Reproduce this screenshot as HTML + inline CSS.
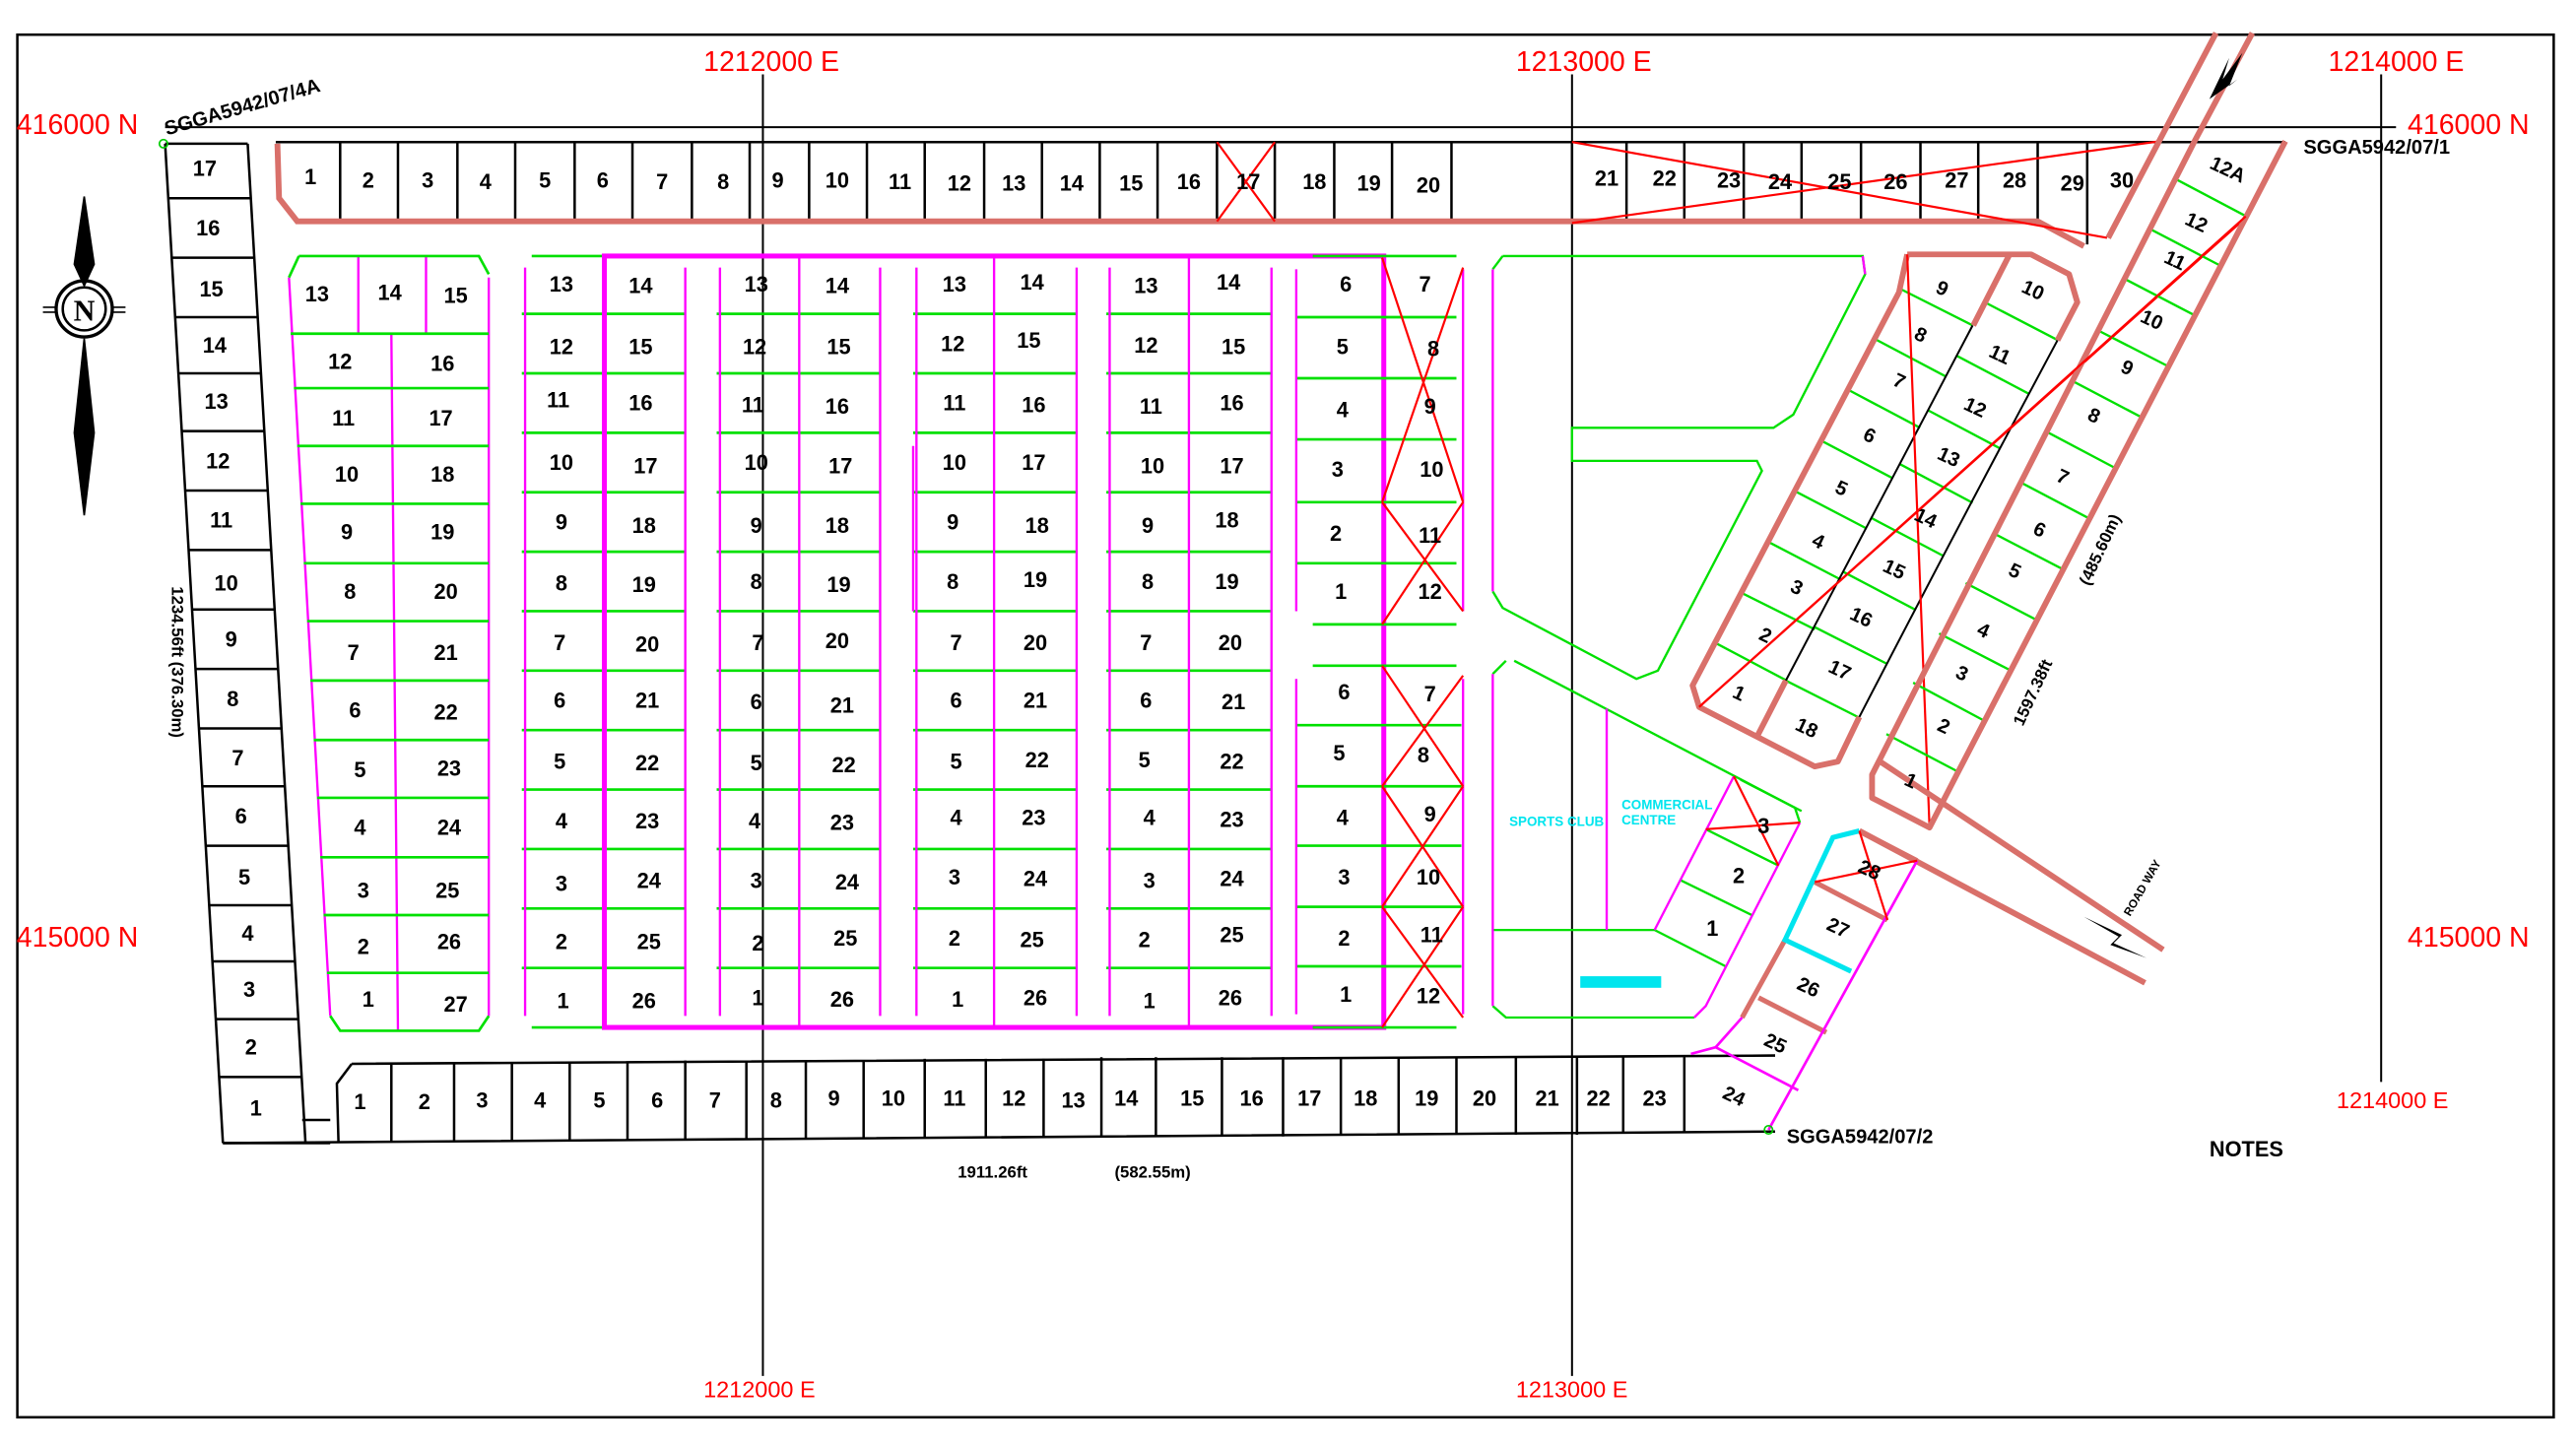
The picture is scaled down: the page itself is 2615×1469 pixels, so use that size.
<!DOCTYPE html>
<html><head><meta charset="utf-8"><style>
html,body{margin:0;padding:0;background:#fff;}
svg{display:block;}
text{font-family:"Liberation Sans",sans-serif;}
.n{font-size:13px;font-weight:bold;fill:#000;text-anchor:middle;dominant-baseline:central;}
.r{font-size:17px;fill:#f00;}
.c{font-size:8px;font-weight:bold;fill:#00e5ee;}
.lb{font-size:12px;font-weight:bold;fill:#000;}
</style></head><body>
<svg width="2615" height="1469" viewBox="0 0 1560 876" preserveAspectRatio="none" xmlns="http://www.w3.org/2000/svg">
<rect x="0" y="0" width="1560" height="876" fill="#fff"/>
<rect x="10.5" y="21" width="1536" height="837" fill="none" stroke="#000" stroke-width="1.5"/>

<!-- grid -->
<g stroke="#000" stroke-width="1.2" fill="none">
<path d="M462,45 V833 M952,45 V833 M1442,45 V655 M100,77 H1451"/>
</g>
<g class="r">
<text x="426" y="43">1212000  E</text>
<text x="918" y="43">1213000  E</text>
<text x="1410" y="43">1214000  E</text>
<text x="10" y="81">416000  N</text>
<text x="1458" y="81">416000  N</text>
<text x="10" y="573">415000  N</text>
<text x="1458" y="573">415000  N</text>
<text x="1415" y="671" style="font-size:14px">1214000  E</text>
<text x="426" y="846" style="font-size:14px">1212000  E</text>
<text x="918" y="846" style="font-size:14px">1213000  E</text>
</g>

<!-- north arrow -->
<g fill="#000" stroke="#000">
<polygon points="51,119 57,160 51,173 45,160" />
<polygon points="51,205 57,262 51,312 45,262" />
<circle cx="51" cy="187" r="17" fill="none" stroke-width="2"/>
<circle cx="51" cy="187" r="13" fill="none" stroke-width="1.5"/>
<path d="M26,186 H34 M68,186 H76 M26,189 H34 M68,189 H76" stroke-width="1"/>
</g>
<text x="51" y="188" class="n" style="font-size:18px;font-family:'Liberation Serif',serif">N</text>

<!-- left column -->
<g stroke="#000" stroke-width="1.5" fill="none">
<path d="M100,87 L135,692 M150,87 L185,692 M135,692 L200,692"/>
<path d="M101.9,120H151.9 M104,156H154 M106.1,192H156.1 M108.1,226H158.1 M110.1,261H160.1 M112.2,297H162.2 M114.3,333H164.3 M116.4,369H166.4 M118.4,405H168.4 M120.5,441H170.5 M122.6,476H172.6 M124.7,512H174.7 M126.8,548H176.8 M128.7,582H178.7 M130.7,617H180.7 M132.8,652H182.8 M100,87H150"/>
<path d="M183,678 H200"/>
</g>
<g class="n">
<text x="124" y="102">17</text><text x="126" y="138">16</text><text x="128" y="175">15</text><text x="130" y="209">14</text><text x="131" y="243">13</text><text x="132" y="279">12</text><text x="134" y="315">11</text><text x="137" y="353">10</text><text x="140" y="387">9</text><text x="141" y="423">8</text><text x="144" y="459">7</text><text x="146" y="494">6</text><text x="148" y="531">5</text><text x="150" y="565">4</text><text x="151" y="599">3</text><text x="152" y="634">2</text><text x="155" y="671">1</text>
</g>
<text class="lb" transform="translate(104,355) rotate(90)" style="font-size:10px">1234.56ft       (376.30m)</text>
<circle cx="99" cy="87" r="2.5" fill="none" stroke="#0c0"/>
<text class="lb" transform="translate(101,82) rotate(-16)" style="font-size:12px">SGGA5942/07/4A</text>

<!-- top row -->
<g stroke="#000" stroke-width="1.5" fill="none">
<path d="M167,86 H1384"/>
<path d="M206,86V134 M241,86V134 M277,86V134 M312,86V134 M348,86V134 M383,86V134 M419,86V134 M454,86V134 M490,86V134 M525,86V134 M560,86V134 M596,86V134 M631,86V134 M666,86V134 M701,86V134 M737,86V134 M772,86V134 M808,86V134 M843,86V134 M879,86V134 M952,86V134 M985,86V134 M1020,86V134 M1056,86V134 M1091,86V134 M1127,86V134 M1163,86V134 M1198,86V134 M1234,86V134 M1264,86V148"/>
</g>
<path d="M168,87 L169,120 L180,134 L1234,134 L1262,149" stroke="#d9706a" stroke-width="3.5" fill="none"/>
<g stroke="#f00" stroke-width="1.3">
<path d="M737,86 L772,134 M772,86 L737,134 M952,86 L1276,144 M952,135 L1308,85.5"/>
</g>
<g class="n">
<text x="188" y="107">1</text><text x="223" y="109">2</text><text x="259" y="109">3</text><text x="294" y="110">4</text><text x="330" y="109">5</text><text x="365" y="109">6</text><text x="401" y="110">7</text><text x="438" y="110">8</text><text x="471" y="109">9</text><text x="507" y="109">10</text><text x="545" y="110">11</text><text x="581" y="111">12</text><text x="614" y="111">13</text><text x="649" y="111">14</text><text x="685" y="111">15</text><text x="720" y="110">16</text><text x="756" y="110">17</text><text x="796" y="110">18</text><text x="829" y="111">19</text><text x="865" y="112">20</text>
<text x="973" y="108">21</text><text x="1008" y="108">22</text><text x="1047" y="109">23</text><text x="1078" y="110">24</text><text x="1114" y="110">25</text><text x="1148" y="110">26</text><text x="1185" y="109">27</text><text x="1220" y="109">28</text><text x="1255" y="111">29</text><text x="1285" y="109">30</text>
</g>

<!-- bottom row -->
<g stroke="#000" stroke-width="1.5" fill="none">
<path d="M135,692 L1075,685 M213,644 L1075,639 M213,644 L204,656 L205,692"/>
<path d="M237,644V691 M275,644V691 M310,643V691 M345,643V690 M380,643V690 M415,642V690 M452,642V690 M488,642V689 M523,642V689 M560,641V689 M597,641V688 M632,641V688 M667,640V688 M700,640V688 M740,640V688 M777,640V688 M812,640V687 M847,640V687 M882,640V687 M918,640V687 M955,640V687 M983,640V686 M1020,640V686"/>
</g>
<g class="n">
<text x="218" y="667">1</text><text x="257" y="667">2</text><text x="292" y="666">3</text><text x="327" y="666">4</text><text x="363" y="666">5</text><text x="398" y="666">6</text><text x="433" y="666">7</text><text x="470" y="666">8</text><text x="505" y="665">9</text><text x="541" y="665">10</text><text x="578" y="665">11</text><text x="614" y="665">12</text><text x="650" y="666">13</text><text x="682" y="665">14</text><text x="722" y="665">15</text><text x="758" y="665">16</text><text x="793" y="665">17</text><text x="827" y="665">18</text><text x="864" y="665">19</text><text x="899" y="665">20</text><text x="937" y="665">21</text><text x="968" y="665">22</text><text x="1002" y="665">23</text>
</g>
<text class="lb" x="580" y="713" style="font-size:10px">1911.26ft</text>
<text class="lb" x="675" y="713" style="font-size:10px">(582.55m)</text>
<text class="lb" x="1082" y="692">SGGA5942/07/2</text>
<text class="lb" x="1338" y="700" style="font-size:13px">NOTES</text>
<text class="lb" x="1395" y="93">SGGA5942/07/1</text>

<!-- Block A -->
<g stroke="#ff00ff" stroke-width="1.4" fill="none">
<path d="M175,168 L200,615 M296,168 V615 M237,202 L241,624 M217,155V202 M258,155V202"/>
</g>
<g stroke="#00e000" stroke-width="1.6" fill="none">
<path d="M181,155 H290 L296,166 M181,155 L175,168 M176,202H296 M178,235H296 M180,270H296 M182,305H296 M184,341H296 M186,376H296 M188,412H296 M190,448H296 M192,483H296 M194,519H296 M196,554H296 M198,589H296 M200,615 L206,624 H290 L296,615"/>
</g>
<g class="n">
<text x="192" y="178">13</text><text x="236" y="177">14</text><text x="276" y="179">15</text>
<text x="206" y="219">12</text><text x="208" y="253">11</text><text x="210" y="287">10</text><text x="210" y="322">9</text><text x="212" y="358">8</text><text x="214" y="395">7</text><text x="215" y="430">6</text><text x="218" y="466">5</text><text x="218" y="501">4</text><text x="220" y="539">3</text><text x="220" y="573">2</text><text x="223" y="605">1</text>
<text x="268" y="220">16</text><text x="267" y="253">17</text><text x="268" y="287">18</text><text x="268" y="322">19</text><text x="270" y="358">20</text><text x="270" y="395">21</text><text x="270" y="431">22</text><text x="272" y="465">23</text><text x="272" y="501">24</text><text x="271" y="539">25</text><text x="272" y="570">26</text><text x="276" y="608">27</text>
</g>

<!-- Blocks B-E -->
<g stroke="#00e000" stroke-width="1.6" fill="none">
<path d="M322,155H409 M316,190H415 M316,226H415 M316,262H415 M316,298H415 M316,334H415 M316,370H415 M316,406H415 M316,442H415 M316,478H415 M316,514H415 M316,550H415 M316,586H415 M322,622H409"/>
<path d="M440,155H527 M434,190H533 M434,226H533 M434,262H533 M434,298H533 M434,334H533 M434,370H533 M434,406H533 M434,442H533 M434,478H533 M434,514H533 M434,550H533 M434,586H533 M440,622H527"/>
<path d="M559,155H646 M553,190H652 M553,226H652 M553,262H652 M553,298H652 M553,334H652 M553,370H652 M553,406H652 M553,442H652 M553,478H652 M553,514H652 M553,550H652 M553,586H652 M559,622H646"/>
<path d="M676,155H764 M670,190H770 M670,226H770 M670,262H770 M670,298H770 M670,334H770 M670,370H770 M670,406H770 M670,442H770 M670,478H770 M670,514H770 M670,550H770 M670,586H770 M676,622H764"/>
</g>
<g stroke="#ff00ff" stroke-width="1.4" fill="none">
<path d="M318,162V615 M415,162V615 M436,162V615 M484,155V622 M533,162V615 M555,162V615 M602,155V622 M652,162V615 M672,162V615 M720,155V622 M770,162V615 M553,270V370"/>
</g>
<rect x="366" y="155" width="472" height="467" fill="none" stroke="#ff00ff" stroke-width="3"/>
<g class="n">
<text x="340" y="172">13</text><text x="340" y="210">12</text><text x="338" y="242">11</text><text x="340" y="280">10</text><text x="340" y="316">9</text><text x="340" y="353">8</text><text x="339" y="389">7</text><text x="339" y="424">6</text><text x="339" y="461">5</text><text x="340" y="497">4</text><text x="340" y="535">3</text><text x="340" y="570">2</text><text x="341" y="606">1</text>
<text x="388" y="173">14</text><text x="388" y="210">15</text><text x="388" y="244">16</text><text x="391" y="282">17</text><text x="390" y="318">18</text><text x="390" y="354">19</text><text x="392" y="390">20</text><text x="392" y="424">21</text><text x="392" y="462">22</text><text x="392" y="497">23</text><text x="393" y="533">24</text><text x="393" y="570">25</text><text x="390" y="606">26</text>
<text x="458" y="172">13</text><text x="457" y="210">12</text><text x="456" y="245">11</text><text x="458" y="280">10</text><text x="458" y="318">9</text><text x="458" y="352">8</text><text x="459" y="389">7</text><text x="458" y="425">6</text><text x="458" y="462">5</text><text x="457" y="497">4</text><text x="458" y="533">3</text><text x="459" y="571">2</text><text x="459" y="604">1</text>
<text x="507" y="173">14</text><text x="508" y="210">15</text><text x="507" y="246">16</text><text x="509" y="282">17</text><text x="507" y="318">18</text><text x="508" y="354">19</text><text x="507" y="388">20</text><text x="510" y="427">21</text><text x="511" y="463">22</text><text x="510" y="498">23</text><text x="513" y="534">24</text><text x="512" y="568">25</text><text x="510" y="605">26</text>
<text x="578" y="172">13</text><text x="577" y="208">12</text><text x="578" y="244">11</text><text x="578" y="280">10</text><text x="577" y="316">9</text><text x="577" y="352">8</text><text x="579" y="389">7</text><text x="579" y="424">6</text><text x="579" y="461">5</text><text x="579" y="495">4</text><text x="578" y="531">3</text><text x="578" y="568">2</text><text x="580" y="605">1</text>
<text x="625" y="171">14</text><text x="623" y="206">15</text><text x="626" y="245">16</text><text x="626" y="280">17</text><text x="628" y="318">18</text><text x="627" y="351">19</text><text x="627" y="389">20</text><text x="627" y="424">21</text><text x="628" y="460">22</text><text x="626" y="495">23</text><text x="627" y="532">24</text><text x="625" y="569">25</text><text x="627" y="604">26</text>
<text x="694" y="173">13</text><text x="694" y="209">12</text><text x="697" y="246">11</text><text x="698" y="282">10</text><text x="695" y="318">9</text><text x="695" y="352">8</text><text x="694" y="389">7</text><text x="694" y="424">6</text><text x="693" y="460">5</text><text x="696" y="495">4</text><text x="696" y="533">3</text><text x="693" y="569">2</text><text x="696" y="606">1</text>
<text x="744" y="171">14</text><text x="747" y="210">15</text><text x="746" y="244">16</text><text x="746" y="282">17</text><text x="743" y="315">18</text><text x="743" y="352">19</text><text x="745" y="389">20</text><text x="747" y="425">21</text><text x="746" y="461">22</text><text x="746" y="496">23</text><text x="746" y="532">24</text><text x="746" y="566">25</text><text x="745" y="604">26</text>
</g>

<!-- Block F -->
<g stroke="#00e000" stroke-width="1.6" fill="none">
<path d="M795,155H882 M785,192H882 M785,229H882 M785,266H882 M785,304H882 M785,341H882 M795,378H882"/>
<path d="M795,403H882 M785,439H885 M785,476H885 M785,512H885 M785,549H885 M785,585H885 M795,622H882"/>
</g>
<g stroke="#ff00ff" stroke-width="1.4" fill="none">
<path d="M785,163V370 M886,163V370 M785,411V614 M886,411V614"/>
</g>
<g stroke="#f00" stroke-width="1.3">
<path d="M837,156 L886,304 M886,162 L837,304 M837,304 L886,370 M886,304 L837,378"/>
<path d="M837,403 L886,476 M886,409 L837,476 M837,476 L886,549 M886,476 L837,549 M837,549 L886,616 M886,549 L837,622"/>
</g>
<g class="n">
<text x="815" y="172">6</text><text x="813" y="210">5</text><text x="813" y="248">4</text><text x="810" y="284">3</text><text x="809" y="323">2</text><text x="812" y="358">1</text>
<text x="863" y="172">7</text><text x="868" y="211">8</text><text x="866" y="246">9</text><text x="867" y="284">10</text><text x="866" y="324">11</text><text x="866" y="358">12</text>
<text x="814" y="419">6</text><text x="811" y="456">5</text><text x="813" y="495">4</text><text x="814" y="531">3</text><text x="814" y="568">2</text><text x="815" y="602">1</text>
<text x="866" y="420">7</text><text x="862" y="457">8</text><text x="866" y="493">9</text><text x="865" y="531">10</text><text x="867" y="566">11</text><text x="865" y="603">12</text>
</g>

<!-- green areas -->
<g stroke="#00e000" stroke-width="1.4" fill="none">
<path d="M910,155 H1128 L1129.5,166 L1086,251 L1074,259 H952 V279 H1064 L1067,285 L1004,406 L991,411 L910,368 L904,358"/>
<path d="M904,163 L910,155"/>
<path d="M917,400 L1087,489 L1090,498 M1026,616 H912 L904,609 M904,408 L912,400 M904,563 H1002 L1045,585 M1033,502 L1077,524 M1018,533 L1061,554"/>
<path d="M1054,472 L1091,491"/>
</g>
<g stroke="#ff00ff" stroke-width="1.4" fill="none">
<path d="M904,163 V358 M904,408 V609 M973,429 V563 M1002,563 L1050,470 M1090,498 L1033,609 L1026,616 M1129.5,166 L1128,155"/>
</g>
<g stroke="#f00" stroke-width="1.3"><path d="M1033,502 L1090,498 M1050,470 L1077,524"/></g>
<g class="n"><text x="1068" y="500">3</text><text x="1053" y="530">2</text><text x="1037" y="562">1</text></g>
<text class="c" x="914" y="500">SPORTS CLUB</text>
<text class="c" x="982" y="490">COMMERCIAL</text>
<text class="c" x="982" y="499">CENTRE</text>
<rect x="957" y="591" width="49" height="7" fill="#00e5ee"/>

<!-- diagonal left block -->
<g stroke="#00e000" stroke-width="1.4">
<path d="M1150,174.5L1194.6,197 M1135,205L1178.5,228 M1119.3,236L1162.8,259 M1102.6,266.6L1146,289.4 M1086.4,297L1130.5,320 M1070.8,328L1115,351 M1054,358.6L1099,381 M1038.4,389L1082,412"/>
<path d="M1202,183L1245.6,205.6 M1185.4,215.6L1228.7,238.4 M1168,248.6L1211.3,271.5 M1150.6,281L1194.6,304.4 M1133.7,313.8L1177.2,336.7 M1116.3,346.2L1160.3,369.3 M1099,379.7L1143,402 M1081.5,412L1126,434.5"/>
</g>
<g stroke="#000" stroke-width="1.2" fill="none"><path d="M1194.6,197 Q1140,300 1081.5,412 M1246,206 Q1185,320 1126,434"/></g>
<g stroke="#d9706a" stroke-width="3.5" fill="none" stroke-linejoin="round">
<path d="M1155,154 L1230,154 L1253,166 L1258,183 L1246,206 M1126,434 L1113,461 L1099,464 L1064,446 L1029,428 L1025,415 L1150,177 L1155,154 M1217,154 L1195,197 M1081.5,412 L1064,446"/>
</g>
<g stroke="#f00" stroke-width="1.3"><path d="M1155,154 L1168.5,501 M1029,428 L1362,130"/></g>
<g class="n" style="font-size:12px">
<text x="1176" y="175" transform="rotate(25 1176 175)">9</text><text x="1163" y="203" transform="rotate(25 1163 203)">8</text><text x="1150" y="231" transform="rotate(25 1150 231)">7</text><text x="1132" y="264" transform="rotate(25 1132 264)">6</text><text x="1115" y="296" transform="rotate(25 1115 296)">5</text><text x="1101" y="328" transform="rotate(25 1101 328)">4</text><text x="1088" y="356" transform="rotate(25 1088 356)">3</text><text x="1069" y="385" transform="rotate(25 1069 385)">2</text><text x="1053" y="420" transform="rotate(25 1053 420)">1</text>
<text x="1231" y="176" transform="rotate(25 1231 176)">10</text><text x="1211" y="215" transform="rotate(25 1211 215)">11</text><text x="1196" y="247" transform="rotate(25 1196 247)">12</text><text x="1180" y="277" transform="rotate(25 1180 277)">13</text><text x="1166" y="314" transform="rotate(25 1166 314)">14</text><text x="1147" y="345" transform="rotate(25 1147 345)">15</text><text x="1127" y="374" transform="rotate(25 1127 374)">16</text><text x="1114" y="406" transform="rotate(25 1114 406)">17</text><text x="1094" y="441" transform="rotate(25 1094 441)">18</text>
</g>

<!-- right diagonal strip & roads -->
<g stroke="#00e000" stroke-width="1.4">
<path d="M1317.6,108.4L1360.4,131 M1302,138.6L1345,161 M1287,169L1330,191.4 M1270.5,200L1314.5,222.5 M1254.8,230.5L1298.4,253.4 M1238.7,261L1282.2,284 M1222.5,291.4L1266,314.3 M1206.6,322.5L1250,345 M1190.4,353L1233.7,375.5 M1174.3,383.5L1217.8,406 M1158.6,413.3L1202,436.5 M1142.4,444.4L1186,467.3"/>
</g>
<g stroke="#d9706a" stroke-width="3.5" fill="none" stroke-linejoin="round">
<path d="M1342,20 L1276.7,144 M1364,20 L1329,85.5 L1133.7,469 L1133.7,483 L1168.5,501 L1186,467 L1384,85.5"/>
<path d="M1137,460 L1310,575 M1126,503 L1299,595"/>
</g>
<g stroke="#f00" stroke-width="1.3"><path d="M1360,131 L1029,428"/></g>
<g class="n" style="font-size:12px">
<text x="1349" y="103" transform="rotate(25 1349 103)">12A</text><text x="1330" y="135" transform="rotate(25 1330 135)">12</text><text x="1317" y="158" transform="rotate(25 1317 158)">11</text><text x="1303" y="194" transform="rotate(25 1303 194)">10</text><text x="1288" y="223" transform="rotate(25 1288 223)">9</text><text x="1268" y="252" transform="rotate(25 1268 252)">8</text><text x="1249" y="289" transform="rotate(25 1249 289)">7</text><text x="1235" y="321" transform="rotate(25 1235 321)">6</text><text x="1220" y="346" transform="rotate(25 1220 346)">5</text><text x="1201" y="382" transform="rotate(25 1201 382)">4</text><text x="1188" y="408" transform="rotate(25 1188 408)">3</text><text x="1177" y="440" transform="rotate(25 1177 440)">2</text><text x="1157" y="473" transform="rotate(25 1157 473)">1</text>
</g>
<text class="lb" style="font-size:10px" transform="translate(1265,355) rotate(-65)">(485.60m)</text>
<text class="lb" style="font-size:10px" transform="translate(1225,440) rotate(-65)">1597.38ft</text>
<text class="lb" style="font-size:7px" transform="translate(1290,555) rotate(-60)">ROAD WAY</text>
<path d="M1262,555 L1285,566 L1280,571 L1300,580 L1278,572 L1283,567 Z" fill="#000"/>
<path d="M1338,60 L1350,35 L1346,48 L1358,32 L1350,52 L1355,48 Z" fill="#000"/>

<!-- lower strip 24-28 -->
<g stroke="#d9706a" stroke-width="3" fill="none">
<path d="M1126,503 L1161,521 M1081,569 L1055,616 M1099,534 L1143,557 M1065,604 L1106,625"/>
</g>
<g stroke="#00e5ee" stroke-width="3" fill="none"><path d="M1126,503 L1110,507 L1081,569 L1121,588"/></g>
<g stroke="#ff00ff" stroke-width="1.6" fill="none"><path d="M1161,521 L1071,684 M1055,616 L1039,634 L1024,638 M1039,634 L1089,660"/></g>
<g stroke="#f00" stroke-width="1.3"><path d="M1126,503 L1143,557 M1099,534 L1161,521"/></g>
<g class="n" style="font-size:12px">
<text x="1132" y="527" transform="rotate(25 1132 527)">28</text><text x="1113" y="562" transform="rotate(25 1113 562)">27</text><text x="1095" y="598" transform="rotate(25 1095 598)">26</text><text x="1075" y="632" transform="rotate(25 1075 632)">25</text><text x="1050" y="664" transform="rotate(25 1050 664)">24</text>
</g>
<circle cx="1071" cy="684" r="2.5" fill="none" stroke="#0c0"/>
</svg>
</body></html>
